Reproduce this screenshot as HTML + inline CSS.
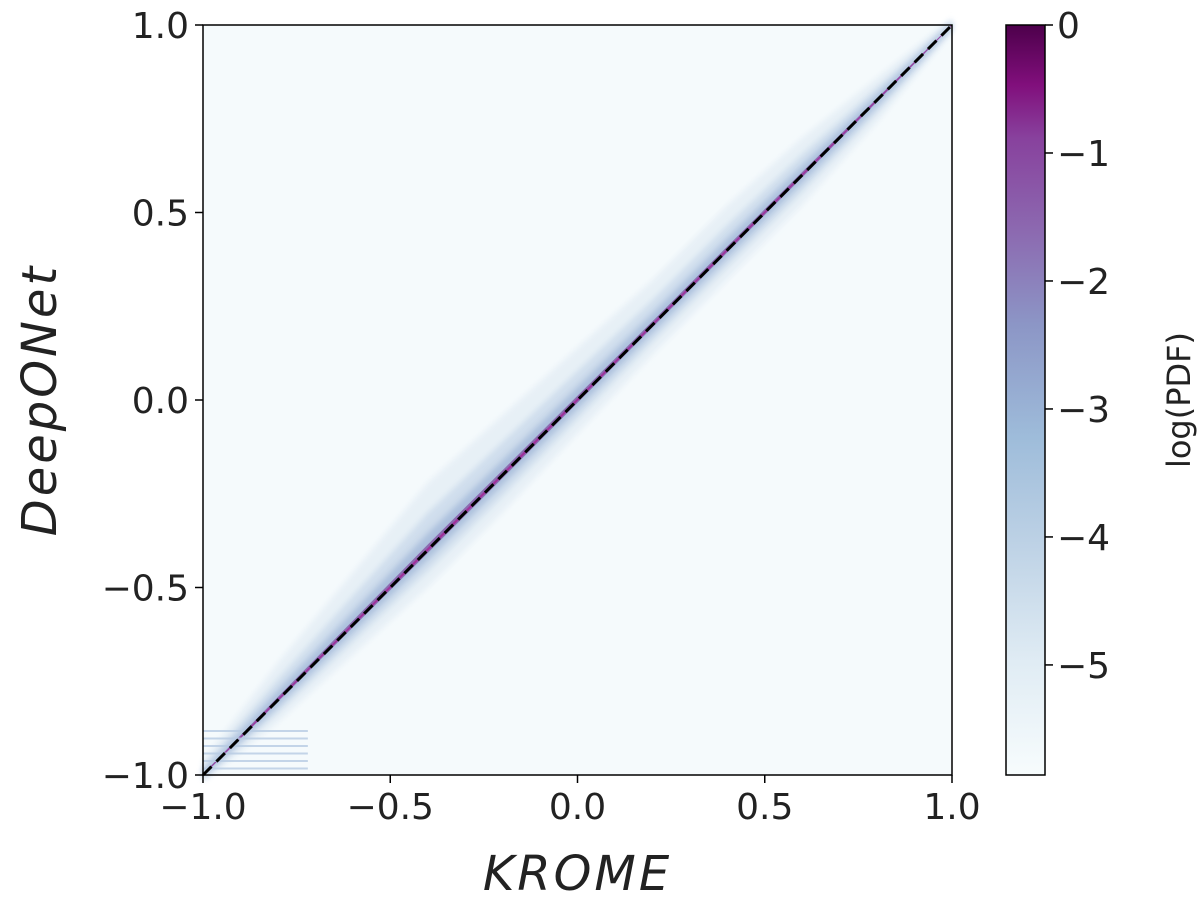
<!DOCTYPE html>
<html><head><meta charset="utf-8"><style>
body{margin:0;background:#fff;}
svg text{font-family:"DejaVu Sans","Liberation Sans",sans-serif;fill:#222;}
</style></head><body>
<svg id="chart" width="1200" height="898" viewBox="0 0 1200 898">
<defs>
<linearGradient id="cmap" x1="0" y1="1" x2="0" y2="0">
<stop offset="0" stop-color="#f7fcfd"/>
<stop offset="0.15" stop-color="#e0ecf4"/>
<stop offset="0.3" stop-color="#bfd3e6"/>
<stop offset="0.45" stop-color="#9ebcda"/>
<stop offset="0.6" stop-color="#8c96c6"/>
<stop offset="0.72" stop-color="#8c6bb1"/>
<stop offset="0.85" stop-color="#88419d"/>
<stop offset="0.92" stop-color="#810f7c"/>
<stop offset="1" stop-color="#4d004b"/>
</linearGradient>
<filter id="blur"><feGaussianBlur stdDeviation="3"/></filter>
</defs>
<g id="plot"></g>
<g id="cbar"></g>
</svg>
<script>
const axisTicks=[-1.0,-0.5,0.0,0.5,1.0];
const cbarTicks=[0,-1,-2,-3,-4,-5];
const cbarMin=-5.86, cbarMax=0;
const bandX=[-1.0,-0.8,-0.6,-0.4,-0.2,0.0,0.2,0.4,0.6,0.8,1.0];
const bandUpper=[0.04,0.10,0.14,0.18,0.16,0.14,0.12,0.12,0.10,0.06,0.02];
const bandLower=[0.02,0.06,0.08,0.10,0.10,0.09,0.08,0.08,0.08,0.06,0.02];
const X0=203,X1=952,Y0=25,Y1=775;
const sx=v=>X0+(v+1)/2*(X1-X0);
const sy=v=>Y1-(v+1)/2*(Y1-Y0);
const NS='http://www.w3.org/2000/svg';
function mk(t,a,p){const e=document.createElementNS(NS,t);for(const k in a)e.setAttribute(k,a[k]);p.appendChild(e);return e;}
const plot=document.getElementById('plot');
const bg=mk('rect',{x:X0,y:Y0,width:X1-X0,height:Y1-Y0,fill:'#f5fafc'},plot);


const layers=[[1.0,'#e6eff6',0.9],[0.55,'#cddcec',0.9],[0.25,'#a9bedc',0.9],[0.08,'#8c6bb1',1],[0.03,'#a0309a',1]];
layers.forEach((L,i)=>{
  let pts=bandX.map((x,j)=>sx(x)+','+sy(x+bandUpper[j]*L[0]));
  let pts2=bandX.map((x,j)=>sx(x)+','+sy(x-bandLower[j]*L[0])).reverse();
  const p=mk('polygon',{points:pts.concat(pts2).join(' '),fill:L[1],opacity:L[2],filter:i<3?'url(#blur)':''},plot);
  
  
});
for(let k=0;k<6;k++){const yv=-0.88-k*0.02;
  const s=mk('rect',{x:X0,y:sy(yv),width:(X1-X0)*0.14,height:2,fill:'#b7cbe2',opacity:0.8},plot);
  
  }
const diag=mk('line',{x1:sx(-1),y1:sy(-1),x2:sx(1),y2:sy(1),stroke:'#000','stroke-width':3,'stroke-dasharray':'12,7'},plot);


const fr=mk('rect',{x:X0,y:Y0,width:X1-X0,height:Y1-Y0,fill:'none',stroke:'#000','stroke-width':1.5},plot);


axisTicks.forEach(t=>{
  const lab=(t<0?'\u2212':'')+Math.abs(t).toFixed(1);
  mk('line',{x1:sx(t),y1:Y1,x2:sx(t),y2:Y1+8,stroke:'#000','stroke-width':1.5},plot);
  const tx=mk('text',{x:sx(t),y:Y1+44,'text-anchor':'middle','font-size':36},plot);tx.textContent=lab;
  
  
  mk('line',{x1:X0-8,y1:sy(t),x2:X0,y2:sy(t),stroke:'#000','stroke-width':1.5},plot);
  const ty=mk('text',{x:X0-14,y:sy(t)+13,'text-anchor':'end','font-size':36},plot);ty.textContent=lab;
  
  
});
const xt=mk('text',{x:(X0+X1)/2,y:890,'text-anchor':'middle','font-size':48,'font-style':'italic','letter-spacing':3},plot);xt.textContent='KROME';


const yt=mk('text',{x:0,y:0,'text-anchor':'middle','font-size':48,'font-style':'italic','letter-spacing':3,transform:'translate(56,400) rotate(-90)'},plot);yt.textContent='DeepONet';


const cb=document.getElementById('cbar');
const CX0=1006,CX1=1045;
const cy=v=>Y0+(cbarMax-v)/(cbarMax-cbarMin)*(Y1-Y0);
const cr=mk('rect',{x:CX0,y:Y0,width:CX1-CX0,height:Y1-Y0,fill:'url(#cmap)',stroke:'#000','stroke-width':1.5},cb);


cbarTicks.forEach(t=>{
  mk('line',{x1:CX1,y1:cy(t),x2:CX1+8,y2:cy(t),stroke:'#000','stroke-width':1.5},cb);
  const tl=mk('text',{x:CX1+12,y:cy(t)+13,'font-size':36},cb);tl.textContent=t<0?'\u2212'+Math.abs(t):'0';
  
  
});
const cl=mk('text',{x:0,y:0,'text-anchor':'middle','font-size':32,transform:'translate(1190,400) rotate(-90)'},cb);cl.textContent='log(PDF)';


</script>
</body></html>
